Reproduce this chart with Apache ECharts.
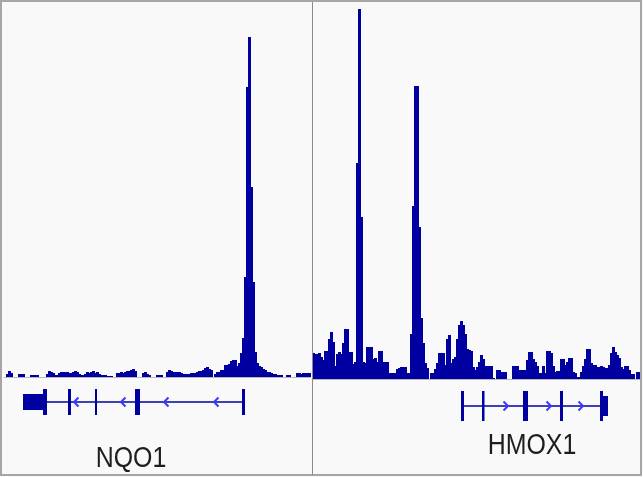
<!DOCTYPE html>
<html>
<head>
<meta charset="utf-8">
<script src="https://cdn.jsdelivr.net/npm/echarts@6/dist/echarts.min.js"></script>
<style>
html,body{margin:0;padding:0;background:#f9f9f9;}
#chart{width:643px;height:477px;}
</style>
</head>
<body>
<div id="chart"></div>
<script>
// ---- signal tracks (one value per 2px bin) ----
const leftSignal = [
  0,3,6,4,0,0,0,3,3,3,
  0,0,0,2,2,2,2,0,0,0,
  0,3,6,5,4,2,2,4,5,5,
  5,5,4,4,5,6,5,3,2,2,
  3,5,4,5,6,4,5,3,2,2,
  2,1,1,1,0,0,4,4,5,4,
  5,6,6,7,8,6,0,0,0,4,
  5,3,2,0,0,0,2,2,2,0,
  0,5,7,6,5,5,5,5,4,3,
  3,3,3,4,4,4,5,6,6,7,
  9,10,8,7,0,3,5,5,7,7,
  12,12,13,16,17,17,11,14,24,39,
  100,290,340,190,95,25,14,11,10,8,
  7,5,5,4,3,3,2,2,2,0,
  0,2,2,0,0,0,4,4,3,4,
  4,4,4
];
const rightSignal = [
  26,25,25,26,22,19,28,28,40,47,
  37,13,25,27,25,36,50,50,27,27,
  15,17,216,370,162,17,16,32,32,32,
  20,21,17,28,28,17,17,17,6,6,
  6,6,10,11,12,12,12,6,6,45,
  173,293,293,152,61,36,16,11,0,6,
  6,10,16,26,26,26,14,40,44,16,
  20,22,40,54,58,54,45,30,29,28,
  12,9,12,17,24,20,13,13,13,13,
  1,0,9,9,7,7,7,0,0,0,
  13,13,13,9,9,9,9,19,27,27,
  20,17,13,6,6,13,6,28,28,26,
  13,7,8,8,20,20,14,17,21,21,
  7,6,2,2,7,13,20,30,30,16,
  14,14,12,12,13,12,11,11,14,26,
  32,27,24,21,12,10,13,13,9,5,
  5,0,7,7
];
const signalMax = 370;

// ---- gene models (positions in panel track units) ----
const geneNames = ['NQO1', 'HMOX1'];
// NQO1 (minus strand)
const nqo1Intron = [43, 239];
const nqo1Exons = [[19,39,8],[39,43,13],[64,67,13],[91,93,13],[131,136,13],[238,241,13]];
const nqo1Arrows = [71, 118, 161, 211];
const nqo1Strand = -1;
// HMOX1 (plus strand)
const hmox1Intron = [150, 295];
const hmox1Exons = [[149,152,15],[170,172.5,15],[211,216,15],[248,251,15],[288,291,15],[291,296,10]];
const hmox1Arrows = [195, 238, 270];
const hmox1Strand = 1;

const leftBins = leftSignal.map((_, i) => String(i));
const rightBins = rightSignal.map((_, i) => String(i));
const asItems = arr => arr.map((v, i) => [i, v]);

function geneData(intron, exons, arrows, strand) {
  const d = [];
  d.push([0, intron[0], intron[1], 0]);
  arrows.forEach(a => d.push([2, a, strand, 0]));
  exons.forEach(e => d.push([1, e[0], e[1], e[2]]));
  return d;
}

const DARK = '#0000a0';

function renderBar(params, api) {
  const v = api.value(1);
  if (!v) return null;
  const top = api.coord([api.value(0), v]);
  const base = api.coord([api.value(0), 0]);
  const bw = api.size([1, 0])[0];
  return {type:'rect',
          shape:{x:Math.round(top[0]-bw/2), y:Math.round(top[1]), width:Math.round(bw)+1,
                 height:Math.round(base[1])-Math.round(top[1])},
          style:{fill:DARK}};
}

function renderGene(params, api) {
  const t = api.value(0), a = api.value(1), b = api.value(2), h = api.value(3);
  const p1 = api.coord([a, 0]);
  if (t === 0) {
    const p2 = api.coord([b, 0]);
    return {type:'line', shape:{x1:p1[0], y1:p1[1], x2:p2[0], y2:p2[1]},
            style:{stroke:DARK, lineWidth:1.3}};
  }
  if (t === 1) {
    const p2 = api.coord([b, 0]);
    return {type:'rect', shape:{x:p1[0], y:p1[1]-h, width:p2[0]-p1[0], height:2*h},
            style:{fill:DARK}};
  }
  const dir = b; // +1 points right, -1 points left
  const x = p1[0], y = p1[1];
  return {type:'polyline', shape:{points:[[x-dir*3.5, y-4.5],[x+dir*1, y],[x-dir*3.5, y+4.5]]},
          style:{stroke:'#3a3aff', lineWidth:2, fill:null}};
}

const chart = echarts.init(document.getElementById('chart'), null, {renderer:'canvas'});
chart.setOption({
  animation:false,
  backgroundColor:'#f9f9f9',
  grid:[
    {left:4, top:7, width:306, height:370},
    {left:312, top:9, width:328, height:370},
    {left:4, top:382, width:306, height:40},
    {left:312, top:386, width:328, height:40}
  ],
  xAxis:[
    {type:'category', gridIndex:0, data:leftBins, axisLine:{show:true, lineStyle:{color:'#b8b8b8'}},
     axisTick:{show:false}, axisLabel:{show:false}, splitLine:{show:false}},
    {type:'category', gridIndex:1, data:rightBins, axisLine:{show:true, lineStyle:{color:'#b8b8b8'}},
     axisTick:{show:false}, axisLabel:{show:false}, splitLine:{show:false}},
    {type:'value', gridIndex:2, min:0, max:306, show:false},
    {type:'value', gridIndex:3, min:0, max:328, show:false}
  ],
  yAxis:[
    {type:'value', gridIndex:0, min:0, max:signalMax, show:false},
    {type:'value', gridIndex:1, min:0, max:signalMax, show:false},
    {type:'value', gridIndex:2, min:-1, max:1, show:false},
    {type:'value', gridIndex:3, min:-1, max:1, show:false}
  ],
  series:[
    {type:'custom', xAxisIndex:0, yAxisIndex:0, data:asItems(leftSignal), renderItem:renderBar,
     encode:{x:0, y:1}, silent:true},
    {type:'custom', xAxisIndex:1, yAxisIndex:1, data:asItems(rightSignal), renderItem:renderBar,
     encode:{x:0, y:1}, silent:true},
    {type:'custom', xAxisIndex:2, yAxisIndex:2, renderItem:renderGene, clip:false,
     data:geneData(nqo1Intron, nqo1Exons, nqo1Arrows, nqo1Strand), silent:true},
    {type:'custom', xAxisIndex:3, yAxisIndex:3, renderItem:renderGene, clip:false,
     data:geneData(hmox1Intron, hmox1Exons, hmox1Arrows, hmox1Strand), silent:true}
  ],
  graphic:[
    {type:'rect', shape:{x:1, y:1, width:640, height:474}, style:{fill:null, stroke:'#a6a6a6', lineWidth:2}, z:100},
    {type:'line', shape:{x1:312.5, y1:2, x2:312.5, y2:475}, style:{stroke:'#8c8c8c', lineWidth:1}, z:100},
    {type:'text', x:131, y:459, scaleX:0.83, z:100,
     style:{text:geneNames[0], font:'30px "Liberation Sans", Arial, sans-serif', fill:'#1e1e1e',
            textAlign:'center', textVerticalAlign:'middle'}},
    {type:'text', x:532, y:446, scaleX:0.83, z:100,
     style:{text:geneNames[1], font:'30px "Liberation Sans", Arial, sans-serif', fill:'#1e1e1e',
            textAlign:'center', textVerticalAlign:'middle'}}
  ]
});
</script>
</body>
</html>
